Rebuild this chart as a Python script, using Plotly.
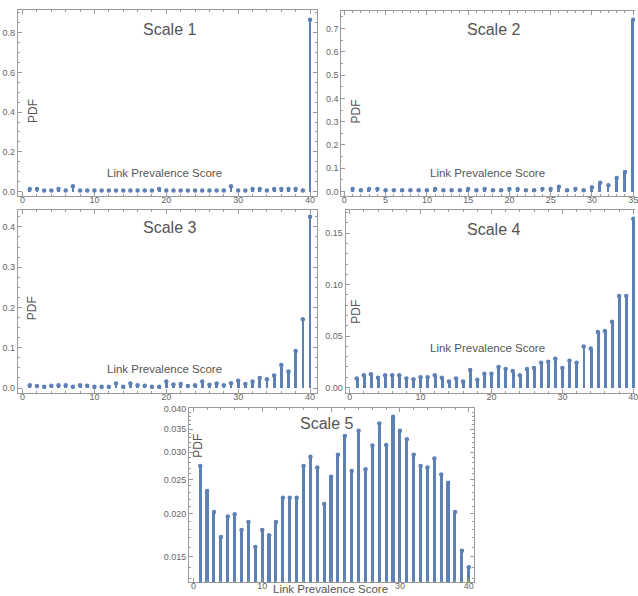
import plotly.graph_objects as go

W, H = 638, 596
BLUE = '#5E81B5'
FRAME = '#9a9a9a'
TXT = '#666666'
FONT = 'Liberation Sans, Arial, sans-serif'

scores40 = list(range(1, 41))
scores35 = list(range(1, 36))

scale1 = [0.013, 0.013, 0.005, 0.005, 0.013, 0.005, 0.027, 0.005, 0.005, 0.005,
          0.005, 0.005, 0.005, 0.005, 0.005, 0.005, 0.005, 0.005, 0.013, 0.005,
          0.005, 0.005, 0.005, 0.005, 0.005, 0.005, 0.005, 0.005, 0.027, 0.005,
          0.005, 0.013, 0.013, 0.005, 0.013, 0.013, 0.013, 0.013, 0.005, 0.865]

scale2 = [0.010, 0.005, 0.010, 0.010, 0.005, 0.005, 0.005, 0.005, 0.005, 0.005,
          0.010, 0.005, 0.005, 0.005, 0.010, 0.005, 0.010, 0.005, 0.005, 0.010,
          0.010, 0.005, 0.005, 0.010, 0.010, 0.020, 0.005, 0.010, 0.005, 0.018,
          0.037, 0.027, 0.058, 0.084, 0.738]

scale3 = [0.007, 0.005, 0.003, 0.006, 0.007, 0.007, 0.003, 0.007, 0.006, 0.003,
          0.003, 0.003, 0.011, 0.003, 0.011, 0.007, 0.006, 0.003, 0.003, 0.016,
          0.009, 0.010, 0.005, 0.007, 0.016, 0.008, 0.011, 0.007, 0.012, 0.018,
          0.010, 0.016, 0.025, 0.022, 0.031, 0.057, 0.041, 0.092, 0.171, 0.425]

scale4 = [0.0087, 0.0120, 0.0130, 0.0096, 0.0120, 0.0120, 0.0120, 0.0087, 0.0080, 0.0100,
          0.0100, 0.0120, 0.0096, 0.0058, 0.0087, 0.0058, 0.0170, 0.0077, 0.0135, 0.0135,
          0.0200, 0.0180, 0.0160, 0.0120, 0.0180, 0.0190, 0.0240, 0.0250, 0.0280, 0.0190,
          0.0260, 0.0240, 0.0400, 0.0380, 0.0540, 0.0550, 0.0640, 0.0890, 0.0890, 0.1640]

scale5 = [0.0274, 0.0232, 0.0202, 0.0171, 0.0196, 0.0199, 0.0179, 0.0189, 0.0160, 0.0179,
          0.0173, 0.0189, 0.0222, 0.0222, 0.0222, 0.0274, 0.0291, 0.0271, 0.0213, 0.0255,
          0.0295, 0.0334, 0.0265, 0.0346, 0.0268, 0.0314, 0.0363, 0.0315, 0.0380, 0.0346,
          0.0327, 0.0295, 0.0274, 0.0271, 0.0288, 0.0259, 0.0245, 0.0202, 0.0156, 0.0140]

titles = ['Scale 1', 'Scale 2', 'Scale 3', 'Scale 4', 'Scale 5']
x_label = 'Link Prevalence Score'
y_label = 'PDF'

ticks_x40 = [0, 10, 20, 30, 40]
ticks_x35 = [0, 5, 10, 15, 20, 25, 30, 35]
labels_x5 = ['0', '10', '', '30', '40']   # "20" is hidden behind the axis caption in the original

ticks_y1 = [0.0, 0.2, 0.4, 0.6, 0.8]
ticks_y2 = [0.0, 0.1, 0.2, 0.3, 0.4, 0.5, 0.6, 0.7]
ticks_y3 = [0.0, 0.1, 0.2, 0.3, 0.4]
ticks_y4 = [0.00, 0.05, 0.10, 0.15]
ticks_y5 = [0.015, 0.020, 0.025, 0.030, 0.035, 0.040]

panels = [
    dict(x=scores40, y=scale1, fx=(18, 318), fy=(6, 193.5), xr=[-0.65, 40.9], yr=[-0.022, 0.915],
         xt=ticks_x40, xl=None, xm=2, yt=ticks_y1, yfmt='{:.1f}', ym=0.05, log=False, mirror_y=True, bw=0.38,
         title=(170.7, 25.5), pdf=(33, 108), lps=(165, 170)),
    dict(x=scores35, y=scale2, fx=(343, 638), fy=(6.7, 193.5), xr=[-0.36, 35.22], yr=[-0.019, 0.777],
         xt=ticks_x35, xl=None, xm=1, yt=ticks_y2, yfmt='{:.1f}', ym=0.05, log=False, mirror_y=False, bw=0.34,
         title=(496, 25.5), pdf=(358, 108), lps=(490, 170)),
    dict(x=scores40, y=scale3, fx=(18, 318), fy=(207.3, 392.7), xr=[-0.65, 40.9], yr=[-0.0133, 0.443],
         xt=ticks_x40, xl=None, xm=2, yt=ticks_y3, yfmt='{:.1f}', ym=0.025, log=False, mirror_y=True, bw=0.38,
         title=(170.7, 225), pdf=(33, 307), lps=(165, 368.3)),
    dict(x=scores40, y=scale4, fx=(347.3, 638), fy=(207.3, 392.2), xr=[-0.56, 40.24], yr=[-0.0052, 0.173],
         xt=ticks_x40, xl=None, xm=2, yt=ticks_y4, yfmt='{:.2f}', ym=0.01, log=False, mirror_y=False, bw=0.42,
         title=(496, 227), pdf=(358, 310), lps=(490, 347.3)),
    dict(x=scores40, y=scale5, fx=(190, 476), fy=(407.5, 583), xr=[-0.62, 40.72], yr=[-1.897, -1.3955],
         xt=ticks_x40, xl=labels_x5, xm=2, yt=ticks_y5, yfmt='{:.3f}', ym=None, log=True, mirror_y=True, bw=0.45,
         title=(328, 422.7), pdf=(199.3, 445), lps=(332, 590)),
]

annotations = []
fig = go.Figure()
for i, p in enumerate(panels):
    n = '' if i == 0 else str(i + 1)
    xa, ya = 'x' + n, 'y' + n
    fig_x = [p['fx'][0] / W, p['fx'][1] / W]
    fig_y = [1 - p['fy'][1] / H, 1 - p['fy'][0] / H]

    fig.add_trace(go.Bar(x=p['x'], y=p['y'], width=p['bw'], marker=dict(color=BLUE, line=dict(width=0)),
                         xaxis=xa, yaxis=ya, showlegend=False, hoverinfo='x+y'))
    fig.add_trace(go.Scatter(x=p['x'], y=p['y'], mode='markers',
                             marker=dict(color=BLUE, size=4.5, line=dict(width=0)),
                             xaxis=xa, yaxis=ya, showlegend=False, hoverinfo='skip'))

    xlabels = p['xl'] if p['xl'] is not None else [str(v) for v in p['xt']]
    xkw = dict(domain=fig_x, range=p['xr'], anchor=ya, tickmode='array', tickvals=p['xt'], ticktext=xlabels,
               ticks='inside', ticklen=4, tickwidth=1, tickcolor=FRAME,
               minor=dict(ticks='inside', ticklen=2, dtick=p['xm'], tick0=0, tickcolor=FRAME),
               showline=True, linecolor=FRAME, linewidth=1, mirror='ticks',
               ticklabeloverflow='allow', ticklabelstandoff=-5,
               showgrid=False, zeroline=False, tickfont=dict(size=9, color=TXT, family=FONT))
    if p['log']:
        minor_vals = [v / 1000 for v in range(13, 41)]
        ykw = dict(type='log', domain=fig_y, range=p['yr'], anchor=xa,
                   tickmode='array', tickvals=p['yt'], ticktext=[p['yfmt'].format(v) for v in p['yt']],
                   minor=dict(ticks='inside', ticklen=2, tickmode='array', tickvals=minor_vals, tickcolor=FRAME))
    else:
        ykw = dict(domain=fig_y, range=p['yr'], anchor=xa,
                   tickmode='array', tickvals=p['yt'], ticktext=[p['yfmt'].format(v) for v in p['yt']],
                   minor=dict(ticks='inside', ticklen=2, dtick=p['ym'], tick0=0, tickcolor=FRAME))
    ykw.update(ticks='inside', ticklen=4, tickwidth=1, tickcolor=FRAME,
               showline=True, linecolor=FRAME, linewidth=1,
               mirror='ticks' if p['mirror_y'] else False,
               showgrid=False, zeroline=False, tickfont=dict(size=9, color=TXT, family=FONT))

    fig.update_layout(**{('xaxis' + n): xkw, ('yaxis' + n): ykw})

    annotations.append(dict(text=titles[i], x=p['title'][0] / W, y=1 - p['title'][1] / H,
                            xref='paper', yref='paper', xanchor='center', yanchor='middle',
                            showarrow=False, font=dict(size=16, color='#555555', family=FONT)))
    annotations.append(dict(text=y_label, x=p['pdf'][0] / W, y=1 - p['pdf'][1] / H, textangle=-90,
                            xref='paper', yref='paper', xanchor='center', yanchor='middle',
                            showarrow=False, font=dict(size=12, color='#555555', family=FONT)))
    annotations.append(dict(text=x_label, x=p['lps'][0] / W, y=1 - p['lps'][1] / H,
                            xref='paper', yref='paper', xanchor='center', yanchor='middle',
                            showarrow=False, font=dict(size=11.5, color='#555555', family=FONT)))

fig.update_layout(width=W, height=H, margin=dict(l=0, r=0, t=0, b=0),
                  paper_bgcolor='white', plot_bgcolor='white',
                  annotations=annotations, bargap=0, font=dict(family=FONT))

fig.write_html('out.html')
